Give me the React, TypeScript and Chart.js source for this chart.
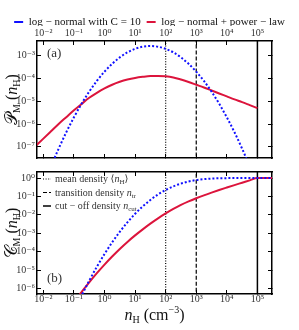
import React, { useEffect, useRef } from 'react';
import { Chart, registerables } from 'chart.js';
Chart.register(...registerables);

const FONT = "'Liberation Serif', 'DejaVu Serif', serif";
const TICK_COLOR = '#333';
const TEXT_COLOR = '#111';
const BLUE = '#1010ff';
const RED = '#dc143c';

// Density grid n_H (cm^-3), quarter-decade steps from 10^-2.25 to 10^5, plus the right edge
const densityGrid = [
  0.00562, 0.01, 0.0178, 0.0316, 0.0562, 0.1, 0.178, 0.316, 0.562, 1,
  1.78, 3.16, 5.62, 10, 17.8, 31.6, 56.2, 100, 178, 316,
  562, 1000, 1778, 3162, 5623, 10000, 17783, 31623, 56234, 100000, 300000,
];

// (a) mass-weighted PDF, log-normal with C = 10
const pdfLogNormal = [
  2.45e-10, 1.97e-9, 1.38e-8, 8.3e-8, 4.37e-7, 1.97e-6, 7.76e-6, 2.63e-5, 7.76e-5, 1.97e-4,
  4.37e-4, 8.3e-4, 1.38e-3, 1.97e-3, 2.45e-3, 2.63e-3, 2.45e-3, 1.97e-3, 1.38e-3, 8.3e-4,
  4.37e-4, 1.97e-4, 7.76e-5, 2.63e-5, 7.76e-6, 1.97e-6, 4.37e-7, 8.3e-8, 1.38e-8, 1.97e-9, null,
];

// (a) mass-weighted PDF, log-normal + power-law
const pdfLogNormalPowerLaw = [
  1.1e-7, 2.29e-7, 4.79e-7, 1.0e-6, 2.0e-6, 3.98e-6, 7.59e-6, 1.41e-5, 2.34e-5, 3.63e-5,
  5.25e-5, 7.08e-5, 8.91e-5, 1.05e-4, 1.17e-4, 1.26e-4, 1.27e-4, 1.23e-4, 1.1e-4, 8.91e-5,
  6.92e-5, 5.25e-5, 3.98e-5, 2.95e-5, 2.19e-5, 1.62e-5, 1.2e-5, 9.12e-6, 6.76e-6, 5.01e-6, null,
];

// (b) cumulative mass fraction, log-normal with C = 10
const cumLogNormal = [
  2.8e-13, 4.3e-12, 5.6e-11, 6.4e-10, 6.4e-9, 5.5e-8, 4.07e-7, 2.63e-6, 1.51e-5, 7.42e-5,
  3.2e-4, 1.2e-3, 3.95e-3, 0.0114, 0.0289, 0.0646, 0.128, 0.224, 0.352, 0.5,
  0.648, 0.776, 0.872, 0.935, 0.971, 0.9886, 0.996, 0.9988, 0.9998, 1.0, 1.0,
];

// (b) cumulative mass fraction, log-normal + power-law
const cumLogNormalPowerLaw = [
  2.7e-10, 1.0e-9, 3.7e-9, 1.39e-8, 5.1e-8, 1.88e-7, 6.37e-7, 2.14e-6, 6.78e-6, 1.99e-5,
  5.47e-5, 1.41e-4, 3.39e-4, 7.65e-4, 1.63e-3, 3.32e-3, 6.44e-3, 0.0119, 0.0209, 0.0345,
  0.0536, 0.0798, 0.115, 0.162, 0.224, 0.305, 0.413, 0.555, 0.747, 1.0, 1.0,
];

const seriesLabels = ['log − normal with C = 10', 'log − normal + power − law'];
const markerLabels = ['mean density ⟨nH⟩', 'transition density ntr', 'cut − off density ncut'];
const markerDensities = [100, 1000, 100000];

const xTickExponents = [-2, -1, 0, 1, 2, 3, 4, 5];
const pdfTickExponents = [-7, -6, -5, -4, -3];
const cumTickExponents = [-6, -5, -4, -3, -2, -1, 0];

const X_MIN = 0.0062;
const X_MAX = 3.0e5;
const PDF_MIN = 3.25e-8;
const PDF_MAX = 4.35e-3;
const CUM_MIN = 5.0e-7;
const CUM_MAX = 2.13;

const SUP: Record<string, string> = {
  '-': '⁻', '0': '⁰', '1': '¹', '2': '²', '3': '³', '4': '⁴', '5': '⁵', '6': '⁶', '7': '⁷', '8': '⁸', '9': '⁹',
};
const pow10Label = (v: number) => {
  const e = Math.round(Math.log10(v));
  return '10' + String(e).split('').map((c) => SUP[c] || c).join('');
};

const pts = (ys: (number | null)[]) =>
  densityGrid.map((x, i) => ({ x, y: ys[i] })).filter((p) => p.y !== null);

const markerStyles = [
  { borderDash: [1, 1.6], borderWidth: 1.2 },
  { borderDash: [4, 2], borderWidth: 1.2 },
  { borderDash: [], borderWidth: 1.5 },
];

function markerDatasets() {
  return markerDensities.map((d, i) => ({
    label: markerLabels[i],
    data: [
      { x: d, y: 1e-14 },
      { x: d, y: 100 },
    ],
    borderColor: '#000',
    backgroundColor: '#000',
    borderWidth: markerStyles[i].borderWidth,
    borderDash: markerStyles[i].borderDash,
    pointRadius: 0,
    xAxisID: 'x',
    yAxisID: 'y',
  }));
}

function curveDataset(label: string, ys: (number | null)[], color: string, dotted: boolean) {
  return {
    label,
    data: pts(ys),
    borderColor: color,
    backgroundColor: color,
    borderWidth: 2,
    borderDash: dotted ? [2, 2] : [],
    borderCapStyle: 'butt',
    pointRadius: 0,
    cubicInterpolationMode: 'monotone',
    xAxisID: 'x',
    yAxisID: 'y',
  };
}

function logAxis(
  position: string,
  min: number,
  max: number,
  exps: number[],
  size: number,
  showLabels: boolean,
  pad: number
) {
  const horizontal = position === 'top' || position === 'bottom';
  return {
    type: 'logarithmic',
    display: true,
    position,
    axis: horizontal ? 'x' : 'y',
    min,
    max,
    bounds: 'data',
    afterBuildTicks: (s: any) => {
      s.ticks = exps.map((e) => ({ value: Math.pow(10, e) }));
    },
    afterFit: (s: any) => {
      if (horizontal) s.height = size;
      else s.width = size;
    },
    border: { display: true, color: '#000', width: 1.5 },
    grid: {
      display: true,
      drawOnChartArea: false,
      drawTicks: true,
      tickLength: -4,
      tickWidth: 1,
      tickColor: '#000',
    },
    ticks: {
      display: showLabels,
      autoSkip: false,
      maxRotation: 0,
      minRotation: 0,
      padding: pad,
      color: TICK_COLOR,
      font: { family: FONT, size: 10 },
      callback: (v: any) => pow10Label(Number(v)),
    },
  };
}

type Part = { t: string; size: number; italic?: boolean; dy?: number };

function drawRich(ctx: CanvasRenderingContext2D, parts: Part[], x: number, y: number, align: 'left' | 'center') {
  const fontOf = (p: Part) => `${p.italic ? 'italic ' : ''}${p.size}px ${FONT}`;
  const widths = parts.map((p) => {
    ctx.font = fontOf(p);
    return ctx.measureText(p.t).width;
  });
  const total = widths.reduce((a, b) => a + b, 0);
  let cx = align === 'center' ? x - total / 2 : x;
  ctx.textBaseline = 'alphabetic';
  ctx.textAlign = 'left';
  parts.forEach((p, i) => {
    ctx.font = fontOf(p);
    ctx.fillText(p.t, cx, y + (p.dy || 0));
    cx += widths[i];
  });
}

function verticalTitle(ctx: CanvasRenderingContext2D, letter: string, x: number, y: number) {
  ctx.save();
  ctx.fillStyle = TEXT_COLOR;
  ctx.translate(x, y);
  ctx.rotate(-Math.PI / 2);
  drawRich(
    ctx,
    [
      { t: letter, size: 17 },
      { t: 'M', size: 10, dy: 3 },
      { t: ' (', size: 16 },
      { t: 'n', size: 16, italic: true },
      { t: 'H', size: 10, dy: 3 },
      { t: ')', size: 16 },
    ],
    0,
    0,
    'center'
  );
  ctx.restore();
}

const topDecor = {
  id: 'topDecor',
  afterDraw(chart: any) {
    const ctx = chart.ctx as CanvasRenderingContext2D;
    const a = chart.chartArea;
    ctx.save();
    ctx.fillStyle = TICK_COLOR;
    drawRich(ctx, [{ t: '(a)', size: 13 }], a.left + 10, a.top + 16, 'left');
    ctx.restore();
    verticalTitle(ctx, '𝒫', 17, (a.top + a.bottom) / 2);
  },
};

const legendParts: Part[][] = [
  [
    { t: 'mean density ', size: 10 },
    { t: '⟨', size: 10 },
    { t: 'n', size: 10, italic: true },
    { t: 'H', size: 7, dy: 2 },
    { t: '⟩', size: 10 },
  ],
  [
    { t: 'transition density ', size: 10 },
    { t: 'n', size: 10, italic: true },
    { t: 'tr', size: 7, dy: 2 },
  ],
  [
    { t: 'cut − off density ', size: 10 },
    { t: 'n', size: 10, italic: true },
    { t: 'cut', size: 7, dy: 2 },
  ],
];

const bottomDecor = {
  id: 'bottomDecor',
  afterDraw(chart: any) {
    const ctx = chart.ctx as CanvasRenderingContext2D;
    const a = chart.chartArea;
    ctx.save();
    ctx.fillStyle = TICK_COLOR;
    drawRich(ctx, [{ t: '(b)', size: 13 }], a.left + 10, a.bottom - 12, 'left');
    ctx.restore();
    verticalTitle(ctx, '𝒞', 17, (a.top + a.bottom) / 2);
    // x-axis title
    ctx.save();
    ctx.fillStyle = TEXT_COLOR;
    drawRich(
      ctx,
      [
        { t: 'n', size: 16, italic: true },
        { t: 'H', size: 10, dy: 3 },
        { t: ' (cm', size: 16 },
        { t: '−3', size: 10, dy: -7 },
        { t: ')', size: 16 },
      ],
      (a.left + a.right) / 2,
      160,
      'center'
    );
    ctx.restore();
    // legend for the marker lines
    const ds = chart.data.datasets;
    const rows = [17, 30.5, 44];
    for (let i = 0; i < 3; i++) {
      const d = ds[2 + i];
      const y = a.top + rows[i] - 7;
      ctx.save();
      ctx.strokeStyle = d.borderColor;
      ctx.lineWidth = d.borderWidth;
      ctx.setLineDash(d.borderDash || []);
      ctx.beginPath();
      ctx.moveTo(a.left + 6, y - 3);
      ctx.lineTo(a.left + 14, y - 3);
      ctx.stroke();
      ctx.restore();
      ctx.save();
      ctx.fillStyle = TICK_COLOR;
      drawRich(ctx, legendParts[i], a.left + 18, y, 'left');
      ctx.restore();
    }
  },
};

export default function App() {
  const topRef = useRef<HTMLCanvasElement>(null);
  const botRef = useRef<HTMLCanvasElement>(null);

  useEffect(() => {
    Chart.defaults.font.family = FONT;
    const common = {
      animation: false,
      responsive: false,
      events: [],
    };
    const top = new Chart(topRef.current as HTMLCanvasElement, {
      type: 'line',
      data: {
        datasets: [
          curveDataset(seriesLabels[0], pdfLogNormal, BLUE, true),
          curveDataset(seriesLabels[1], pdfLogNormalPowerLaw, RED, false),
          ...markerDatasets(),
        ] as any,
      },
      options: {
        ...common,
        layout: { padding: { top: 10.5, left: 0, right: 0, bottom: 0 } },
        scales: {
          x: logAxis('top', X_MIN, X_MAX, xTickExponents, 15, true, 6),
          xB: logAxis('bottom', X_MIN, X_MAX, xTickExponents, 3, false, 0),
          y: logAxis('left', PDF_MIN, PDF_MAX, pdfTickExponents, 37, true, 6),
          yR: logAxis('right', PDF_MIN, PDF_MAX, pdfTickExponents, 27, false, 0),
        } as any,
        plugins: {
          tooltip: { enabled: false },
          legend: {
            display: true,
            position: 'top',
            maxHeight: 15.5,
            labels: {
              usePointStyle: true,
              pointStyle: 'line',
              pointStyleWidth: 9,
              padding: 6,
              color: TEXT_COLOR,
              font: { family: FONT, size: 11 },
              filter: (item: any) => item.datasetIndex < 2,
            },
          },
        },
      } as any,
      plugins: [topDecor],
    });

    const bot = new Chart(botRef.current as HTMLCanvasElement, {
      type: 'line',
      data: {
        datasets: [
          curveDataset(seriesLabels[0], cumLogNormal, BLUE, true),
          curveDataset(seriesLabels[1], cumLogNormalPowerLaw, RED, false),
          ...markerDatasets(),
        ] as any,
      },
      options: {
        ...common,
        layout: { padding: 0 },
        scales: {
          x: logAxis('bottom', X_MIN, X_MAX, xTickExponents, 36, true, 3),
          xT: logAxis('top', X_MIN, X_MAX, xTickExponents, 7, false, 0),
          y: logAxis('left', CUM_MIN, CUM_MAX, cumTickExponents, 37, true, 6),
          yR: logAxis('right', CUM_MIN, CUM_MAX, cumTickExponents, 27, false, 0),
        } as any,
        plugins: {
          tooltip: { enabled: false },
          legend: { display: false },
        },
      } as any,
      plugins: [bottomDecor],
    });

    return () => {
      top.destroy();
      bot.destroy();
    };
  }, []);

  return (
    <div style={{ position: 'absolute', left: 0, top: 0, width: 299, height: 330, background: '#fff' }}>
      <canvas ref={topRef} width={299} height={170} style={{ position: 'absolute', left: 0, top: 0 }} />
      <canvas ref={botRef} width={299} height={170} style={{ position: 'absolute', left: 0, top: 160 }} />
    </div>
  );
}
